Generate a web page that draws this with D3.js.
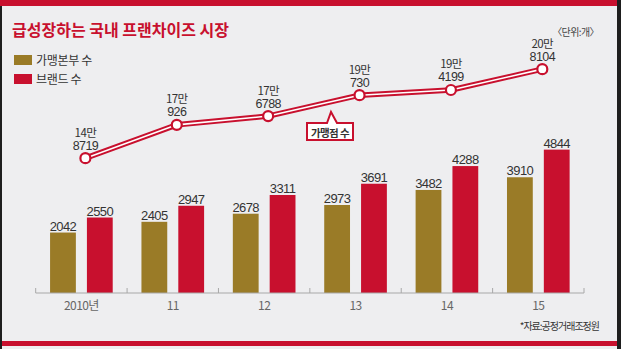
<!DOCTYPE html>
<html>
<head>
<meta charset="utf-8">
<script src="https://cdn.jsdelivr.net/npm/d3@7"></script>
<style>
  html, body { margin: 0; padding: 0; background: #1c1c1c; }
  svg { display: block; }
  text { font-family: "Liberation Sans", Arial, "Noto Sans CJK KR", sans-serif; }
  .kr { font-family: "Noto Sans CJK KR", "Liberation Sans", sans-serif; }
</style>
</head>
<body>
<svg id="chart" width="621" height="349"></svg>
<script>
// Franchise market figures, 2010–2015
const years = ["2010", "2011", "2012", "2013", "2014", "2015"];
const yearLabels = ["2010년", "11", "12", "13", "14", "15"];
const headquarters = [2042, 2405, 2678, 2973, 3482, 3910];   // 가맹본부 수
const brands = [2550, 2947, 3311, 3691, 4288, 4844];          // 브랜드 수
const outlets = [148719, 170926, 176788, 190730, 194199, 208104]; // 가맹점 수
const seriesNames = ["가맹본부 수", "브랜드 수"];
const barTicks = [0, 5000];

const GOLD = "#9a7b27";
const RED = "#c8102e";

const svg = d3.select("#chart");

// frame: panel, dark edges, red rules
svg.append("rect").attr("x", 0).attr("y", 0).attr("width", 621).attr("height", 349).attr("fill", "#1e1e1e");
svg.append("rect").attr("x", 2).attr("y", 0).attr("width", 615).attr("height", 349).attr("fill", "#eeeef0");
svg.append("rect").attr("x", 0).attr("y", 0).attr("width", 617).attr("height", 6).attr("fill", RED);
svg.append("rect").attr("x", 2).attr("y", 341).attr("width", 615).attr("height", 5).attr("fill", RED);

// title & notes
svg.append("text").attr("class", "kr")
  .attr("x", 12).attr("y", 36)
  .attr("fill", RED).attr("font-size", 16).attr("font-weight", 700)
  .attr("letter-spacing", 0)
  .text("급성장하는 국내 프랜차이즈 시장");

svg.append("text").attr("class", "kr")
  .attr("x", 599).attr("y", 36).attr("text-anchor", "end")
  .attr("fill", "#444").attr("font-size", 10).attr("letter-spacing", -0.6)
  .text("〈단위:개〉");

svg.append("text").attr("class", "kr")
  .attr("x", 599).attr("y", 330).attr("text-anchor", "end")
  .attr("fill", "#333").attr("font-size", 10).attr("letter-spacing", -1)
  .text("*자료:공정거래조정원");

// legend
const legend = svg.append("g");
seriesNames.forEach((name, i) => {
  const gy = 55 + i * 19;
  legend.append("rect").attr("x", 14).attr("y", gy).attr("width", 18).attr("height", 10)
    .attr("fill", i === 0 ? GOLD : RED);
  legend.append("text").attr("class", "kr")
    .attr("x", 36).attr("y", gy + 9.5)
    .attr("fill", "#333").attr("font-size", 12).attr("letter-spacing", -0.3)
    .text(name);
});

// scales
const x = d3.scaleBand().domain(years).range([35.7, 584]).paddingInner(0).paddingOuter(0);
const x1 = d3.scaleBand().domain(seriesNames).range([0, x.bandwidth()])
  .paddingInner(0.3).paddingOuter(0.39);
const yBar = d3.scaleLinear().domain(barTicks).range([293, 145]);
const yLine = d3.scaleLinear().domain([140000, 210000]).range([171.2, 66.3]);

// bars
const barData = years.map((yr, i) => ({ yr, vals: [headquarters[i], brands[i]] }));
const groups = svg.append("g").selectAll("g").data(barData).join("g")
  .attr("transform", d => `translate(${x(d.yr)},0)`);

groups.selectAll("rect").data(d => d.vals.map((v, j) => ({ v, s: seriesNames[j], j })))
  .join("rect")
  .attr("x", d => x1(d.s))
  .attr("y", d => yBar(d.v))
  .attr("width", x1.bandwidth())
  .attr("height", d => yBar(0) - yBar(d.v))
  .attr("fill", d => d.j === 0 ? GOLD : RED);

groups.selectAll("text").data(d => d.vals.map((v, j) => ({ v, s: seriesNames[j] })))
  .join("text")
  .attr("x", d => x1(d.s) + x1.bandwidth() / 2)
  .attr("y", d => yBar(d.v) - 2)
  .attr("text-anchor", "middle")
  .attr("fill", "#333").attr("font-size", 13).attr("letter-spacing", -0.6)
  .text(d => d.v);

// x axis: baseline with upward ticks at category boundaries
const axis = svg.append("g").attr("transform", `translate(0,${yBar(0)})`);
axis.append("line").attr("x1", x.range()[0]).attr("x2", x.range()[1])
  .attr("stroke", "#a8a8a8").attr("stroke-width", 1);
const bounds = years.map(y => x(y)).concat([x.range()[1]]);
axis.selectAll("line.tick").data(bounds).join("line").attr("class", "tick")
  .attr("x1", d => d).attr("x2", d => d).attr("y1", 0).attr("y2", -5)
  .attr("stroke", "#a8a8a8").attr("stroke-width", 1);
axis.selectAll("text").data(years).join("text").attr("class", "kr")
  .attr("x", d => x(d) + x.bandwidth() / 2)
  .attr("y", 17)
  .attr("text-anchor", "middle")
  .attr("fill", "#666").attr("font-size", 12).attr("letter-spacing", -0.6)
  .text((d, i) => yearLabels[i]);

// outlet line (double stroke)
const px = d => x(d) + x.bandwidth() / 2 + 4;
const linePts = years.map((yr, i) => [px(yr), yLine(outlets[i])]);
const line = d3.line();
svg.append("path").attr("d", line(linePts)).attr("fill", "none")
  .attr("stroke", RED).attr("stroke-width", 5.5).attr("stroke-linejoin", "round");
svg.append("path").attr("d", line(linePts)).attr("fill", "none")
  .attr("stroke", "#fff").attr("stroke-width", 1.6).attr("stroke-linejoin", "round");

svg.append("g").selectAll("circle").data(linePts).join("circle")
  .attr("cx", d => d[0]).attr("cy", d => d[1]).attr("r", 5)
  .attr("fill", "#fff").attr("stroke", RED).attr("stroke-width", 2.2);

// value labels: "NN만" over the remainder, as two stacked texts
const labels = svg.append("g");
labels.selectAll("text.man").data(outlets).join("text").attr("class", "kr man")
  .attr("x", (d, i) => linePts[i][0]).attr("y", (d, i) => linePts[i][1] - 21.5)
  .attr("text-anchor", "middle").attr("fill", "#333").attr("font-size", 11.5)
  .attr("letter-spacing", -0.6)
  .text(d => Math.floor(d / 10000) + "만");
labels.selectAll("text.rest").data(outlets).join("text").attr("class", "rest")
  .attr("x", (d, i) => linePts[i][0]).attr("y", (d, i) => linePts[i][1] - 8.5)
  .attr("text-anchor", "middle").attr("fill", "#333").attr("font-size", 12.5)
  .attr("letter-spacing", -0.6)
  .text(d => d % 10000);

// callout box for the line series
const cb = { x0: 307, x1: 353, y0: 123, y1: 140, bx0: 327, bx1: 337, tx: 331, ty: 112 };
svg.append("path")
  .attr("d", `M${cb.x0},${cb.y0} L${cb.bx0},${cb.y0} L${cb.tx},${cb.ty} L${cb.bx1},${cb.y0} L${cb.x1},${cb.y0} L${cb.x1},${cb.y1} L${cb.x0},${cb.y1} Z`)
  .attr("fill", "#fff").attr("stroke", RED).attr("stroke-width", 2).attr("stroke-linejoin", "miter");
svg.append("text").attr("class", "kr")
  .attr("x", (cb.x0 + cb.x1) / 2).attr("y", 136.5).attr("text-anchor", "middle")
  .attr("fill", "#333").attr("font-size", 10.5).attr("font-weight", 700).attr("letter-spacing", -0.6)
  .text("가맹점 수");
</script>
</body>
</html>
